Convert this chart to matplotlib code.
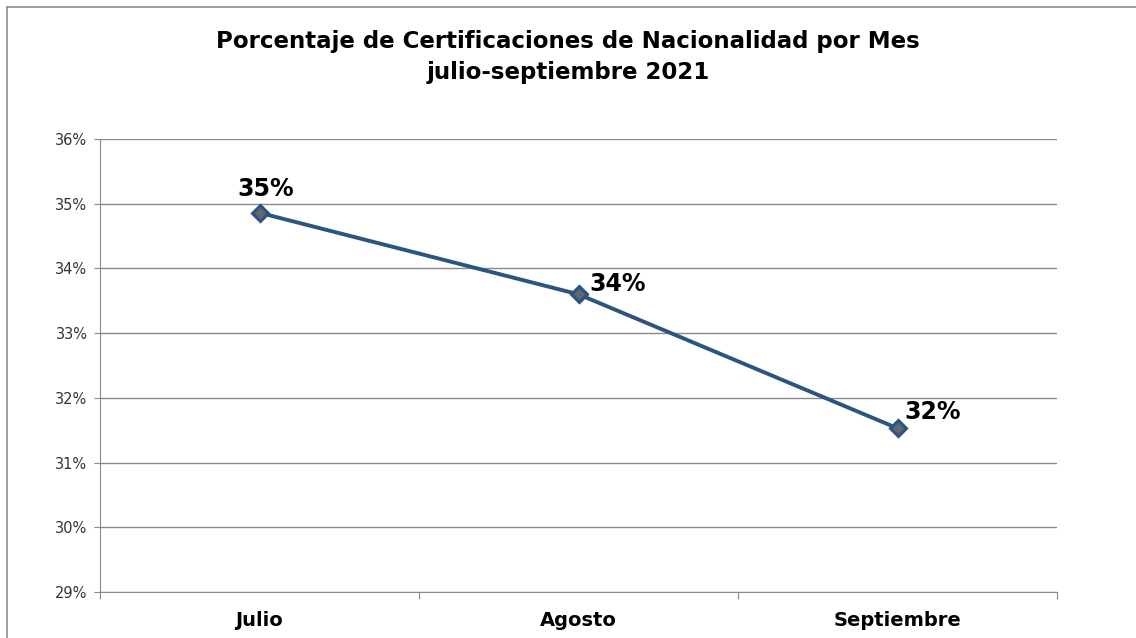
import numpy as np
import matplotlib.pyplot as plt
from matplotlib.lines import Line2D
from matplotlib.ticker import FuncFormatter, FixedLocator

# ==== data ====
meses = ['Julio', 'Agosto', 'Septiembre']
porcentajes = [34.86, 33.60, 31.53]
etiquetas = ['35%', '34%', '32%']
# label offsets in pixels (dx, dy) from each point
offsets = [(6, 24), (39, 10), (35, 16)]

titulo = 'Porcentaje de Certificaciones de Nacionalidad por Mes\njulio-septiembre 2021'

azul = '#2b5580'

fig = plt.figure(figsize=(11.36, 6.38), dpi=100)
fig.patch.set_facecolor('white')

# outer chart border (top + left only visible)
W, H = 1136, 638
fig.add_artist(Line2D([7 / W, 1], [1 - 7 / H, 1 - 7 / H], color='#8c8c8c', lw=1.2,
                      transform=fig.transFigure))
fig.add_artist(Line2D([7 / W, 7 / W], [0, 1 - 7 / H], color='#8c8c8c', lw=1.2,
                      transform=fig.transFigure))

ax = fig.add_axes([100 / W, 1 - 592 / H, (1057 - 100) / W, (592 - 139) / H])

x = np.arange(len(meses))
ax.plot(x, porcentajes, color=azul, lw=2.8, marker='D', markersize=8.5,
        markerfacecolor='#5f6670', markeredgecolor=azul, markeredgewidth=2.2,
        zorder=5)

for xi, yi, lab, (dx, dy) in zip(x, porcentajes, etiquetas, offsets):
    ax.annotate(lab, (xi, yi), xytext=(dx, dy), textcoords='offset pixels',
                ha='center', va='center', fontsize=17, fontweight='bold',
                color='black', zorder=6)

ax.set_xlim(-0.5, 2.5)
ax.set_ylim(29, 36)
ax.set_yticks(np.arange(29, 37, 1))
ax.yaxis.set_major_formatter(FuncFormatter(lambda v, p: '%d%%' % v))
ax.grid(axis='y', color='#8a8a8a', lw=1)
ax.set_axisbelow(True)

ax.xaxis.set_major_locator(FixedLocator([-0.5, 0.5, 1.5, 2.5]))
ax.xaxis.set_major_formatter(FuncFormatter(lambda v, p: ''))
ax.xaxis.set_minor_locator(FixedLocator(x))
ax.set_xticklabels(meses, minor=True)
ax.tick_params(axis='x', which='major', direction='out', length=5, color='#8a8a8a')
ax.tick_params(axis='x', which='minor', length=0, pad=14, labelsize=14)
for t in ax.get_xticklabels(minor=True):
    t.set_fontweight('bold')
ax.tick_params(axis='y', direction='out', length=4, color='#8a8a8a',
               labelsize=10.5, labelcolor='#333333', pad=5)

for s in ['top', 'right']:
    ax.spines[s].set_visible(False)
ax.spines['left'].set_color('#8a8a8a')
ax.spines['bottom'].set_color('#8a8a8a')

fig.text(0.5, 1 - 57 / H, titulo, ha='center', va='center', fontsize=16.5,
         fontweight='bold', linespacing=1.45)

fig.savefig('out.png', dpi=100)
